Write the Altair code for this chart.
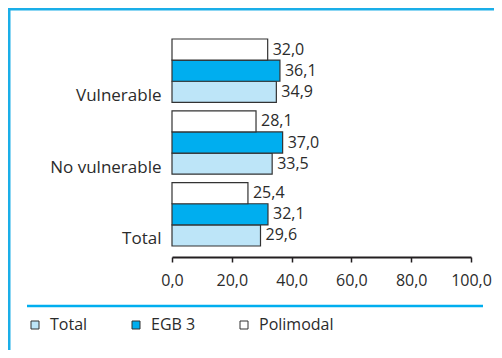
import altair as alt
import pandas as pd

groups = ["Vulnerable", "No vulnerable", "Total"]
series = ["Total", "EGB 3", "Polimodal"]
values_total = [34.9, 33.5, 29.6]
values_egb3 = [36.1, 37.0, 32.1]
values_polimodal = [32.0, 28.1, 25.4]
x_ticks = [0, 20, 40, 60, 80, 100]
colors = ["#bde5f8", "#00aeef", "#ffffff"]

rows = []
for s, vals in zip(series, [values_total, values_egb3, values_polimodal]):
    for g, v in zip(groups, vals):
        rows.append({"group": g, "series": s, "value": v})
df = pd.DataFrame(rows)

FONT = "Open Sans"
FS = 16
TXT = "#2b2b2b"

y_enc = alt.Y(
    "group:N",
    sort=groups,
    scale=alt.Scale(paddingInner=0.118, paddingOuter=0.153),
    axis=alt.Axis(
        title=None, domain=False, ticks=False, labelPadding=11,
        labelOffset=30, labelBaseline="alphabetic",
        labelFontSize=17, labelFont=FONT, labelColor=TXT,
    ),
)
yoff = alt.YOffset("series:N", sort=["Polimodal", "EGB 3", "Total"],
                   scale=alt.Scale(paddingInner=0, paddingOuter=0))
x_enc = alt.X(
    "value:Q",
    scale=alt.Scale(domain=[0, 100], nice=False),
    axis=alt.Axis(
        title=None, values=x_ticks, grid=False,
        labelExpr="replace(format(datum.value, '.1f'), '.', ',')",
        labelOverlap=False, labelFlush=False,
        domainColor="#231f20", domainWidth=2,
        tickColor="#231f20", tickWidth=1.5, tickSize=5,
        labelPadding=10, labelFontSize=FS, labelFont=FONT, labelColor=TXT,
    ),
)

bars = alt.Chart(df).mark_bar(stroke="#333333", strokeWidth=1.2).encode(
    x=x_enc,
    y=y_enc,
    yOffset=yoff,
    color=alt.Color(
        "series:N",
        scale=alt.Scale(domain=series, range=colors),
        legend=alt.Legend(
            title=None, orient="none", legendX=-145, legendY=289,
            direction="horizontal", symbolType="square", symbolSize=64,
            symbolStrokeColor="#333333", symbolStrokeWidth=1,
            labelFontSize=FS, labelFont=FONT, labelColor=TXT,
            labelOffset=7, columnPadding=40, padding=0,
        ),
    ),
)

labels = alt.Chart(df).transform_calculate(
    lab="replace(format(datum.value, '.1f'), '.', ',')"
).mark_text(align="left", baseline="middle", dx=5, font=FONT,
            fontSize=FS, color=TXT).encode(
    x="value:Q",
    y=alt.Y("group:N", sort=groups),
    yOffset=yoff,
    text="lab:N",
)

one = alt.Data(values=[{"k": 1}])
frame_left = alt.Chart(one).mark_rule(color="#1aaee8", strokeWidth=3).encode(
    x=alt.value(-163), y=alt.value(-25), y2=alt.value(330))
frame_top = alt.Chart(one).mark_rule(color="#1aaee8", strokeWidth=3).encode(
    x=alt.value(-170), x2=alt.value(330), y=alt.value(-19))
sep = alt.Chart(one).mark_rule(color="#00aeef", strokeWidth=2.5).encode(
    x=alt.value(-145), x2=alt.value(311), y=alt.value(278))

chart = alt.layer(bars, labels, frame_left, frame_top, sep).properties(
    width=299, height=229,
    autosize=alt.AutoSizeParams(type="none"),
    padding={"left": 164, "top": 20, "right": 23, "bottom": 93},
).configure_view(stroke=None)

chart.save("out.html", embed_options={"renderer": "svg", "actions": False})
